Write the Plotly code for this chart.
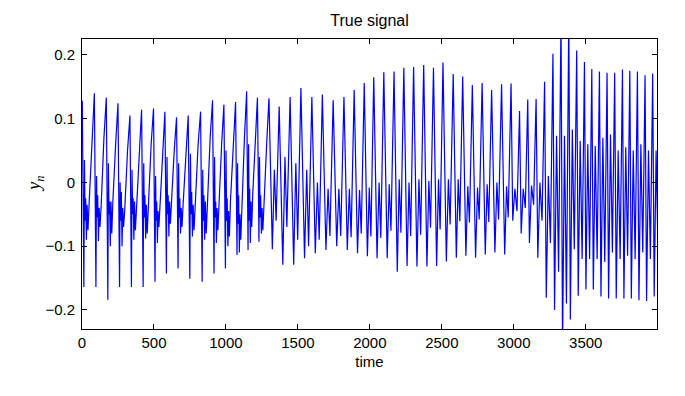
import plotly.graph_objects as go

# ---------------- data ----------------
# Region A (t < 1290): saw-tooth cycles with a noisy floor
a_peak_t = [2, 86, 169, 250, 333, 414, 497, 576, 657, 738, 824, 907, 986, 1067, 1144, 1219]
a_peak_y = [0.128, 0.140, 0.133, 0.124, 0.105, 0.114, 0.116, 0.111, 0.102, 0.105, 0.111, 0.129, 0.122, 0.126, 0.143, 0.133]
a_trough_y = [-0.164, -0.164, -0.184, -0.164, -0.164, -0.164, -0.156, -0.143, -0.135, -0.151, -0.156, -0.143, -0.135, -0.114, -0.106, -0.093]
a_bump_y = [0.035, 0.01, 0.03, 0.0, 0.02, 0.03, 0.01, 0.04, 0.03, 0.045, 0.02, 0.04, 0.05, 0.03, 0.06, 0.04]
a_base1_y = [-0.06, -0.055, -0.05, -0.06, -0.05, -0.055, -0.06, -0.05, -0.055, -0.05, -0.06, -0.055, -0.06, -0.065, -0.06, -0.055]
a_wig1_y = [-0.025, -0.02, -0.03, -0.015, -0.025, -0.02, -0.03, -0.02, -0.025, -0.015, -0.02, -0.03, -0.025, -0.02, -0.01, -0.02]
a_dip_y = [-0.09, -0.092, -0.1, -0.1, -0.09, -0.088, -0.095, -0.085, -0.08, -0.085, -0.09, -0.095, -0.1, -0.11, -0.095, -0.08]
a_wig2_y = [-0.035, -0.04, -0.03, -0.04, -0.03, -0.035, -0.045, -0.03, -0.04, -0.035, -0.03, -0.04, -0.045, -0.05, -0.03, -0.04]
a_wig3_y = [-0.075, -0.07, -0.08, -0.07, -0.075, -0.08, -0.07, -0.065, -0.07, -0.075, -0.08, -0.075, -0.085, -0.09, -0.07, -0.075]
a_base2_y = [-0.035, -0.04, -0.03, -0.045, -0.04, -0.035, -0.04, -0.03, -0.035, -0.03, -0.04, -0.035, -0.03, -0.04, -0.02, -0.03]
a_shoulder_y = [0.06, 0.07, 0.06, 0.05, 0.05, 0.06, 0.055, 0.05, 0.05, 0.06, 0.07, 0.06, 0.06, 0.07, 0.07, 0.06]

# Regions B and C (t >= 1290): peak, trough, bump, dip per cycle
bc_peak_t = [1299, 1370, 1446, 1521, 1597, 1670, 1745, 1820, 1891, 1961, 2027, 2097, 2168, 2236,
             2304, 2374, 2442, 2508, 2579, 2645, 2712, 2780, 2846, 2915, 2981, 3040, 3097, 3155,
             3214, 3272, 3328, 3382, 3437, 3491, 3542, 3595, 3648, 3701, 3755, 3806, 3859, 3912,
             3965, 4018]
bc_peak_y = [0.132, 0.119, 0.134, 0.148, 0.134, 0.138, 0.129, 0.134, 0.145, 0.156, 0.165, 0.173,
             0.174, 0.180, 0.181, 0.184, 0.180, 0.188, 0.170, 0.166, 0.153, 0.156, 0.145, 0.154,
             0.155, 0.112, 0.130, 0.131, 0.158, 0.202, 0.26, 0.26, 0.207, 0.189, 0.178, 0.174,
             0.172, 0.172, 0.177, 0.175, 0.174, 0.168, 0.171, 0.172]
bc_trough_y = [-0.105, -0.129, -0.129, -0.119, -0.111, -0.106, -0.100, -0.106, -0.111, -0.116,
               -0.119, -0.119, -0.140, -0.131, -0.132, -0.132, -0.131, -0.124, -0.118, -0.115,
               -0.118, -0.113, -0.110, -0.113, -0.06, -0.08, -0.095, -0.118, -0.181, -0.20,
               -0.26, -0.215, -0.178, -0.168, -0.168, -0.179, -0.182, -0.182, -0.182, -0.182,
               -0.185, -0.186, -0.179]
bc_bump_y = [0.02, 0.04, 0.03, 0.02, 0.0, -0.01, -0.01, -0.01, -0.012, -0.008,
             0.0, -0.003, 0.005, 0.0, 0.005, 0.002, 0.005, 0.005, 0.005, -0.006,
             -0.008, -0.003, 0.0, -0.006, -0.01, -0.01, -0.005, 0.0, 0.01, 0.073,
             0.073, 0.083, 0.065, 0.06, 0.057, 0.07, 0.075, 0.05, 0.055, 0.05,
             0.06, 0.05, 0.05]
bc_dip_y = [-0.06, -0.07, -0.09, -0.10, -0.09, -0.084, -0.084, -0.086, -0.08, -0.085,
            -0.087, -0.076, -0.079, -0.084, -0.082, -0.071, -0.074, -0.066, -0.061, -0.063,
            -0.058, -0.062, -0.058, -0.055, -0.045, -0.04, -0.035, -0.06, -0.095, -0.14,
            -0.19, -0.105, -0.12, -0.12, -0.12, -0.125, -0.11, -0.12, -0.115, -0.12,
            -0.11, -0.12, -0.11]

x_ticks = [0, 500, 1000, 1500, 2000, 2500, 3000, 3500]
y_ticks = [-0.2, -0.1, 0, 0.1, 0.2]
y_tick_text = ["\u22120.2", "\u22120.1", "0", "0.1", "0.2"]

# ---------------- connect the read features into one polyline ----------------
time, y_n = [], []
next_peaks = a_peak_t[1:] + [bc_peak_t[0]]
for i, t0 in enumerate(a_peak_t):
    P = next_peaks[i] - t0
    seq = [(0.0, a_peak_y[i]), (0.13, a_trough_y[i]), (0.18, a_bump_y[i]),
           (0.23, a_base1_y[i]), (0.28, a_wig1_y[i]), (0.34, a_dip_y[i]),
           (0.40, a_wig2_y[i]), (0.47, a_wig3_y[i]), (0.56, a_base2_y[i]),
           (0.80, a_shoulder_y[i])]
    for f, v in seq:
        time.append(t0 + f * P)
        y_n.append(v)
for j in range(len(bc_trough_y)):
    t0 = bc_peak_t[j]
    P = bc_peak_t[j + 1] - t0
    fr = (0.33, 0.53, 0.70) if P >= 62 else (0.20, 0.45, 0.70)
    seq = [(0.0, bc_peak_y[j]), (fr[0], bc_trough_y[j]), (fr[1], bc_bump_y[j]), (fr[2], bc_dip_y[j])]
    for f, v in seq:
        time.append(t0 + f * P)
        y_n.append(v)
time.append(bc_peak_t[-1])
y_n.append(bc_peak_y[-1])

fig = go.Figure()
fig.add_trace(go.Scatter(x=time, y=y_n, mode="lines",
                         line=dict(color="#0000ff", width=1.2), hoverinfo="skip"))

sans = "Liberation Sans, Arial, Helvetica, sans-serif"
axis_common = dict(showline=True, linecolor="black", linewidth=1, mirror="ticks",
                   ticks="inside", ticklen=5, tickcolor="black", showgrid=False,
                   zeroline=False, tickfont=dict(family=sans, size=15, color="black"))
fig.update_xaxes(range=[0, 3995], tickvals=x_ticks, ticktext=[str(v) for v in x_ticks],
                 title=dict(text="time", font=dict(family=sans, size=15, color="black"), standoff=6),
                 **axis_common)
fig.update_yaxes(range=[-0.23, 0.225], tickvals=y_ticks,
                 ticktext=[s + "\u2009" for s in y_tick_text], **axis_common)
fig.update_layout(
    width=685, height=396,
    margin=dict(l=82, r=28, t=39, b=67),
    paper_bgcolor="white", plot_bgcolor="white",
    showlegend=False,
    title=dict(text="True signal", x=0.5, xref="paper", xanchor="center",
               y=1 - 20 / 396, yref="container", yanchor="middle",
               font=dict(family=sans, size=16, color="black")),
    annotations=[dict(text="<i>y<sub>n</sub></i>", xref="paper", yref="paper",
                      x=-0.082, y=0.5, xanchor="center", yanchor="middle",
                      textangle=-90, showarrow=False,
                      font=dict(family="Liberation Serif, Times New Roman, serif", size=18, color="black"))],
)
fig.write_html("out.html", config={"displayModeBar": False},
               post_script="document.body.style.margin='0';document.body.style.padding='0';")
